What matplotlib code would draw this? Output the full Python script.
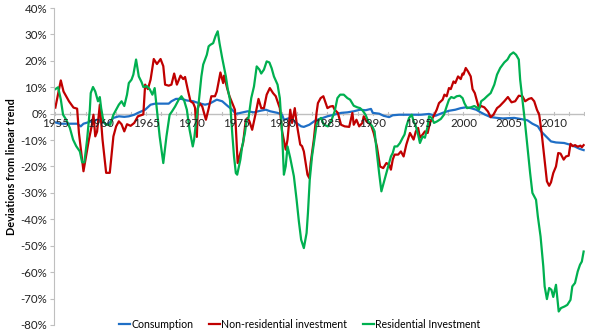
import numpy as np
import matplotlib.pyplot as plt
from matplotlib.ticker import MultipleLocator, FuncFormatter

cons_year = [1955.0, 1955.5, 1956.7, 1957.4, 1957.8, 1958.1, 1958.9, 1959.6, 1960.0, 1960.6, 1961.0,
             1961.4, 1962.0, 1962.6, 1963.1, 1963.7, 1964.1, 1964.9, 1965.5, 1966.0, 1967.5, 1967.8,
             1968.3, 1968.9, 1969.5, 1970.2, 1970.8, 1971.5, 1972.0, 1972.8, 1973.4, 1974.0, 1974.5,
             1974.9, 1975.4, 1976.2, 1976.9, 1977.6, 1978.2, 1978.7, 1979.5, 1980.0, 1980.2, 1980.9,
             1981.5, 1982.1, 1982.4, 1983.0, 1983.7, 1984.5, 1985.0, 1985.7, 1986.5, 1987.2, 1987.9,
             1988.6, 1989.2, 1989.8, 1990.0, 1990.7, 1991.2, 1991.8, 1992.2, 1992.9, 1994.3, 1995.3,
             1996.2, 1996.9, 1997.7, 1998.4, 1999.1, 1999.7, 2000.25, 2000.8, 2001.4, 2001.9, 2002.4,
             2003.0, 2003.7, 2004.35, 2005.6, 2006.3, 2007.05, 2007.6, 2008.2, 2008.55, 2009.1,
             2009.45, 2009.65, 2010.2, 2011.1, 2011.7, 2012.25, 2012.8, 2013.25]
cons_val = [-3.3, -3.8, -3.8, -3.8, -4.8, -3.8, -3.0, -2.3, -2.2, -4.2, -3.3,
            -1.6, -1.0, -1.2, -1.0, -0.4, 0.3, 1.5, 3.4, 3.8, 3.8, 4.7,
            5.6, 5.6, 5.0, 4.7, 4.0, 3.4, 3.8, 5.3, 4.7, 2.9, 1.5,
            -0.1, 0.3, 0.9, 0.5, 1.1, 1.5, 0.9, 0.3, -0.4, -2.3, -1.6,
            -3.3, -4.8, -5.0, -4.2, -2.5, -1.6, -1.0, -0.4, 0.3, 0.5, 0.9,
            1.5, 1.3, 1.8, 0.3, 0.0, -0.8, -1.3, -0.6, -0.4, -0.4, -0.4,
            -0.1, -0.8, 0.3, 1.1, 1.5, 2.1, 2.4, 2.1, 1.5, 0.5, -0.4,
            -1.3, -1.6, -1.8, -1.6, -2.0, -2.5, -3.8, -4.8, -6.7, -8.6,
            -9.8, -10.5, -10.9, -11.1, -11.7, -12.4, -13.3, -13.8]

nonres_year = [1955.0, 1955.6, 1955.9, 1956.5, 1957.0, 1957.4, 1957.6, 1958.1, 1958.7, 1959.0, 1959.2,
               1959.4, 1959.6, 1959.9, 1960.2, 1960.6, 1961.0, 1961.4, 1961.7, 1962.0, 1962.3, 1962.6,
               1962.9, 1963.3, 1963.7, 1964.1, 1964.7, 1964.9, 1965.2, 1965.5, 1965.85, 1966.2, 1966.6,
               1966.9, 1967.1, 1967.5, 1967.8, 1968.1, 1968.4, 1968.8, 1969.1, 1969.3, 1969.6, 1969.9,
               1970.2, 1970.4, 1970.6, 1970.7, 1970.9, 1971.2, 1971.6, 1971.9, 1972.2, 1972.6, 1972.8,
               1973.2, 1973.5, 1973.6, 1973.95, 1974.2, 1974.5, 1974.8, 1975.1, 1975.4, 1975.7, 1976.0,
               1976.2, 1976.4, 1976.7, 1977.1, 1977.4, 1977.7, 1978.0, 1978.3, 1978.65, 1979.0, 1979.3,
               1979.75, 1980.0, 1980.4, 1980.6, 1980.9, 1981.1, 1981.4, 1981.6, 1982.0, 1982.2, 1982.4,
               1982.8, 1983.0, 1983.15, 1983.5, 1983.8, 1983.95, 1984.25, 1984.55, 1985.0, 1985.3, 1985.6,
               1985.8, 1986.15, 1986.5, 1986.9, 1987.4, 1987.75, 1987.9, 1988.2, 1988.5, 1988.85, 1989.0,
               1989.3, 1989.8, 1990.1, 1990.45, 1990.8, 1991.15, 1991.5, 1991.8, 1992.0, 1992.2, 1992.4,
               1992.8, 1993.1, 1993.4, 1993.7, 1994.1, 1994.5, 1994.75, 1995.0, 1995.2, 1995.5, 1995.75,
               1996.05, 1996.3, 1996.7, 1997.05, 1997.3, 1997.7, 1997.9, 1998.15, 1998.4, 1998.6, 1998.9,
               1999.1, 1999.4, 1999.7, 1999.9, 2000.0, 2000.25, 2000.5, 2000.8, 2001.0, 2001.25, 2001.5,
               2001.7, 2001.95, 2002.3, 2002.7, 2003.0, 2003.3, 2003.7, 2004.0, 2004.5, 2004.9, 2005.3,
               2005.7, 2006.1, 2006.5, 2006.8, 2007.2, 2007.5, 2007.8, 2008.1, 2008.35, 2008.6, 2008.9,
               2009.2, 2009.45, 2009.65, 2009.9, 2010.2, 2010.45, 2010.7, 2011.05, 2011.3, 2011.6, 2011.8,
               2012.05, 2012.3, 2012.6, 2012.9, 2013.05, 2013.25]
nonres_val = [2.3, 12.6, 8.4, 4.7, 2.3, 1.9, -7.3, -21.8, -9.8, -4.8, -0.4,
              -8.6, -6.8, 3.4, -9.8, -22.4, -22.4, -8.6, -4.8, -2.9, -4.0, -6.7,
              -4.0, -4.6, -3.5, -1.0, -0.3, 11.0, 9.3, 12.9, 20.7, 18.8, 20.7,
              18.0, 11.0, 10.6, 11.0, 15.2, 11.0, 14.4, 13.1, 13.9, 9.1, 4.7,
              4.0, 2.3, -8.8, 1.9, 4.0, 2.7, -2.3, 1.9, 6.6, 6.6, 8.4,
              15.6, 11.6, 14.4, 9.5, 6.6, 4.0, 1.5, -18.7, -14.9, -11.1, -2.3,
              -1.6, -2.9, -6.1, 0.3, 5.6, 2.1, 2.1, 7.2, 9.7, 7.8, 6.6,
              2.1, -6.7, -13.6, -9.8, 1.5, -3.5, 2.1, -3.5, -11.7, -12.3, -14.3,
              -23.1, -24.4, -18.7, -9.8, 0.3, 4.0, 5.9, 6.6, 2.1, 2.7, 2.9,
              1.5, 0.3, -4.2, -4.8, -5.0, 0.3, -4.2, -2.3, -4.8, -3.5, -1.0,
              -2.9, -4.2, -7.3, -12.4, -20.0, -20.6, -18.7, -19.3, -21.2, -17.4, -15.5,
              -15.5, -14.3, -16.2, -11.7, -7.3, -9.8, -6.7, -5.4, -9.1, -7.9, -6.7,
              -7.3, -3.5, -1.0, 1.5, 4.0, 5.3, 7.2, 6.6, 9.7, 9.3, 12.2,
              11.6, 14.1, 13.1, 15.2, 14.8, 17.3, 16.0, 14.1, 9.3, 7.8, 4.7,
              2.1, 2.9, 2.4, 0.8, -1.3, -0.4, 2.1, 2.9, 4.7, 6.3, 4.3,
              4.7, 6.8, 6.6, 4.7, 5.6, 5.9, 4.7, 1.5, -0.4, -6.7, -16.2,
              -25.6, -27.3, -26.0, -22.5, -20.0, -14.9, -15.1, -17.4, -16.2, -15.9, -11.4,
              -12.3, -11.9, -12.5, -12.1, -12.7, -11.9]

res_year = [1955.0, 1955.3, 1955.6, 1955.85, 1956.2, 1956.6, 1956.95, 1957.3, 1957.7, 1957.95, 1958.2,
            1958.5, 1958.8, 1958.9, 1959.15, 1959.4, 1959.7, 1959.9, 1960.05, 1960.3, 1960.6, 1961.05,
            1961.4, 1961.7, 1962.0, 1962.3, 1962.6, 1962.9, 1963.1, 1963.4, 1963.6, 1963.9, 1964.2,
            1964.5, 1964.7, 1965.1, 1965.4, 1965.7, 1965.95, 1966.2, 1966.5, 1966.9, 1967.25, 1967.6,
            1967.85, 1968.2, 1968.6, 1968.9, 1969.2, 1969.5, 1969.8, 1970.15, 1970.3, 1970.5, 1970.8,
            1971.1, 1971.3, 1971.7, 1971.9, 1972.1, 1972.4, 1972.65, 1972.9, 1973.1, 1973.4, 1973.8,
            1974.0, 1974.25, 1974.5, 1974.7, 1974.9, 1975.05, 1975.4, 1975.6, 1975.9, 1976.1, 1976.3,
            1976.6, 1976.9, 1977.2, 1977.5, 1977.7, 1978.0, 1978.3, 1978.6, 1978.85, 1979.1, 1979.5,
            1979.75, 1980.0, 1980.2, 1980.4, 1980.6, 1980.9, 1981.3, 1981.6, 1981.85, 1982.1, 1982.4,
            1982.7, 1982.85, 1983.05, 1983.3, 1983.6, 1983.8, 1984.05, 1984.3, 1984.6, 1985.05, 1985.4,
            1985.8, 1986.1, 1986.4, 1986.8, 1987.2, 1987.5, 1987.9, 1988.3, 1988.6, 1988.9, 1989.2,
            1989.5, 1989.95, 1990.2, 1990.45, 1990.7, 1990.95, 1991.3, 1991.6, 1992.0, 1992.2, 1992.4,
            1992.7, 1993.0, 1993.3, 1993.5, 1993.7, 1994.0, 1994.3, 1994.5, 1994.75, 1995.0, 1995.2,
            1995.5, 1995.75, 1996.05, 1996.2, 1996.5, 1996.75, 1997.1, 1997.5, 1997.85, 1998.15, 1998.4,
            1998.65, 1998.95, 1999.25, 1999.6, 1999.9, 2000.1, 2000.4, 2000.8, 2001.2, 2001.45, 2001.7,
            2001.95, 2002.3, 2002.6, 2003.0, 2003.4, 2003.7, 2004.05, 2004.5, 2004.85, 2005.15, 2005.5,
            2005.8, 2006.1, 2006.25, 2006.5, 2006.75, 2007.05, 2007.35, 2007.6, 2008.0, 2008.2, 2008.5,
            2008.8, 2008.95, 2009.2, 2009.45, 2009.7, 2009.9, 2010.2, 2010.35, 2010.5, 2010.75, 2011.15,
            2011.45, 2011.8, 2012.0, 2012.3, 2012.6, 2012.85, 2013.05, 2013.25]
res_val = [9.3, 10.0, 5.4, -0.4, -2.3, -5.4, -9.8, -12.3, -14.3, -18.4, -18.4,
           -9.8, 1.5, 7.8, 10.1, 8.4, 4.7, 6.3, 2.1, -2.9, -4.2, -4.2,
           -0.4, 1.5, 3.4, 4.7, 2.9, 7.2, 11.6, 12.9, 14.8, 20.5, 14.1,
           12.0, 10.1, 10.4, 9.3, 7.2, 9.7, 1.5, -8.6, -18.7, -8.6, -0.4,
           0.8, 2.7, 5.3, 6.6, 5.0, 1.5, -6.1, -12.4, -9.8, -3.5, 4.0,
           14.1, 18.6, 22.3, 25.5, 26.1, 26.7, 29.3, 31.2, 26.7, 21.0, 14.1,
           9.5, 5.3, -7.3, -16.2, -22.5, -23.1, -17.4, -12.4, -7.3, -2.3, -1.6,
           5.9, 10.3, 17.9, 16.7, 15.2, 16.7, 19.8, 19.4, 17.2, 14.1, 11.0,
           5.9, -7.3, -23.1, -19.9, -12.4, -16.8, -23.7, -32.6, -40.8, -47.7, -50.9,
           -45.2, -37.6, -25.0, -16.2, -9.1, -4.2, -2.3, -1.6, -4.2, -4.8, -2.9,
           0.9, 5.9, 7.2, 7.2, 5.9, 5.3, 3.0, 2.4, 2.1, 1.1, -0.4,
           -2.9, -4.8, -6.7, -14.9, -22.5, -29.4, -24.9, -21.2, -16.2, -14.9, -12.4,
           -12.4, -11.1, -9.1, -7.9, -4.8, -1.6, -0.4, -2.9, -4.8, -8.0, -11.1,
           -8.6, -9.1, -4.8, -1.0, -1.6, -3.5, -2.9, -2.0, -0.4, 2.8, 5.3,
           6.3, 5.9, 6.6, 6.8, 5.9, 4.0, 2.1, 2.4, 2.9, 2.4, 1.5,
           4.7, 5.6, 6.6, 7.8, 11.0, 14.8, 17.3, 19.4, 20.5, 22.3, 23.2,
           22.3, 20.5, 12.9, 5.3, -2.3, -12.4, -22.5, -30.0, -32.6, -38.9, -46.5,
           -57.8, -65.4, -70.2, -66.0, -66.7, -69.4, -64.8, -69.9, -74.9, -73.6, -73.0,
           -72.4, -70.5, -65.4, -64.1, -59.7, -57.2, -56.0, -52.2]

plt.rcParams['font.family'] = ['Lato', 'DejaVu Sans']

fig = plt.figure(figsize=(6, 3.35), dpi=100)
ax = fig.add_axes([0.09, 0.03, 0.885, 0.946])

ax.plot(cons_year, cons_val, color='#1F6FC6', lw=1.6, label='Consumption')
ax.plot(nonres_year, nonres_val, color='#C00000', lw=1.6, label='Non-residential investment')
ax.plot(res_year, res_val, color='#00B050', lw=1.6, label='Residential Investment')

ax.set_xlim(1954.85, 2013.4)
ax.set_ylim(-80, 40)

# value axis
ax.yaxis.set_major_locator(MultipleLocator(10))
ax.yaxis.set_major_formatter(FuncFormatter(lambda v, p: f'{v:.0f}%'))
ax.tick_params(axis='y', labelsize=8.3, length=3, color='#BFBFBF', pad=2, labelcolor='#222222')
ax.set_ylabel('Deviations from linear trend', fontsize=7.8, fontweight='bold', labelpad=2)

# category axis sits on the zero line
for side in ['top', 'right', 'bottom']:
    ax.spines[side].set_visible(False)
ax.spines['left'].set_color('#BFBFBF')
ax.set_xticks([])
ax.axhline(0, color='#BFBFBF', lw=1, zorder=0)
tick_years = np.arange(1955, 2013.5, 5 / 3)
for ty in tick_years:
    ax.plot([ty, ty], [-0.6, 0.6], color='#BFBFBF', lw=0.8, zorder=0)
for yr in range(1955, 2011, 5):
    ax.text(yr, -1.8, str(yr), ha='center', va='top', fontsize=8.3, color='#222222')

ax.legend(loc='lower center', bbox_to_anchor=(0.463, -0.045), ncol=3, frameon=False,
          fontsize=7.6, handlelength=1.0, handletextpad=0.15, columnspacing=1.5)

fig.savefig('out.png', dpi=100)
